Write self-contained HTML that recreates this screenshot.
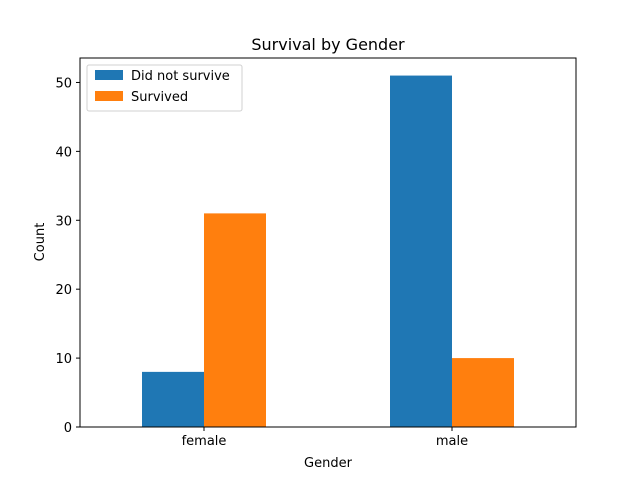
<!DOCTYPE html>
<html><head><meta charset="utf-8"><style>
body{margin:0;background:#fff;font-family:"Liberation Sans","DejaVu Sans",sans-serif}
</style></head><body>
<svg id="chart" width="640" height="480" xmlns="http://www.w3.org/2000/svg" font-family="DejaVu Sans, Liberation Sans, sans-serif">
<rect width="640" height="480" fill="#fff"/>
<text x="328" y="50" font-size="16" text-anchor="middle">Survival by Gender</text>
<g id="bars"></g>
<g id="axes"></g>
<rect x="80" y="58" width="496" height="369" fill="none" stroke="#000" stroke-width="1"/>
<text x="328" y="467" font-size="13" text-anchor="middle">Gender</text>
<text x="44" y="242" font-size="13" text-anchor="middle" transform="rotate(-90 44 242)">Count</text>
<g>
<rect x="87" y="65" width="155" height="46" rx="2" fill="#fff" stroke="#ccc" opacity="0.9"/>
<rect x="95" y="70" width="28" height="10" fill="#1f77b4"/>
<text x="131" y="80" font-size="13">Did not survive</text>
<rect x="95" y="91" width="28" height="10" fill="#ff7f0e"/>
<text x="131" y="101" font-size="13">Survived</text>
</g>
</svg>
<script>
const categories = ["female", "male"];
const didNotSurvive = [8, 51];
const survived = [31, 10];
const yTicks = [0, 10, 20, 30, 40, 50];

const NS = "http://www.w3.org/2000/svg";
const L = 80, R = 576, T = 58, B = 427;
const ymax = Math.max(...didNotSurvive, ...survived) * 1.05;
const y = v => B - v / ymax * (B - T);
const xc = i => L + (i + 0.5) / categories.length * (R - L);
const bw = (R - L) / categories.length * 0.25;
const bars = document.getElementById("bars");
const axes = document.getElementById("axes");
function mk(tag, attrs, parent) {
  const e = document.createElementNS(NS, tag);
  for (const k in attrs) e.setAttribute(k, attrs[k]);
  parent.appendChild(e);
  return e;
}
categories.forEach((c, i) => {
  const b1 = mk("rect", {x: xc(i) - bw, y: y(didNotSurvive[i]), width: bw, height: B - y(didNotSurvive[i]), fill: "#1f77b4"}, bars);
  
  
  const b2 = mk("rect", {x: xc(i), y: y(survived[i]), width: bw, height: B - y(survived[i]), fill: "#ff7f0e"}, bars);
  
  
  mk("line", {x1: xc(i), x2: xc(i), y1: B, y2: B + 4, stroke: "#000"}, axes);
  const t = mk("text", {x: xc(i), y: B + 18, "font-size": 13, "text-anchor": "middle"}, axes);
  t.textContent = c;
  
  
});
yTicks.forEach(v => {
  mk("line", {x1: L - 4, x2: L, y1: y(v), y2: y(v), stroke: "#000"}, axes);
  const t = mk("text", {x: L - 8, y: y(v) + 5, "font-size": 13, "text-anchor": "end"}, axes);
  t.textContent = v;
  
  
});
</script>
</body></html>
